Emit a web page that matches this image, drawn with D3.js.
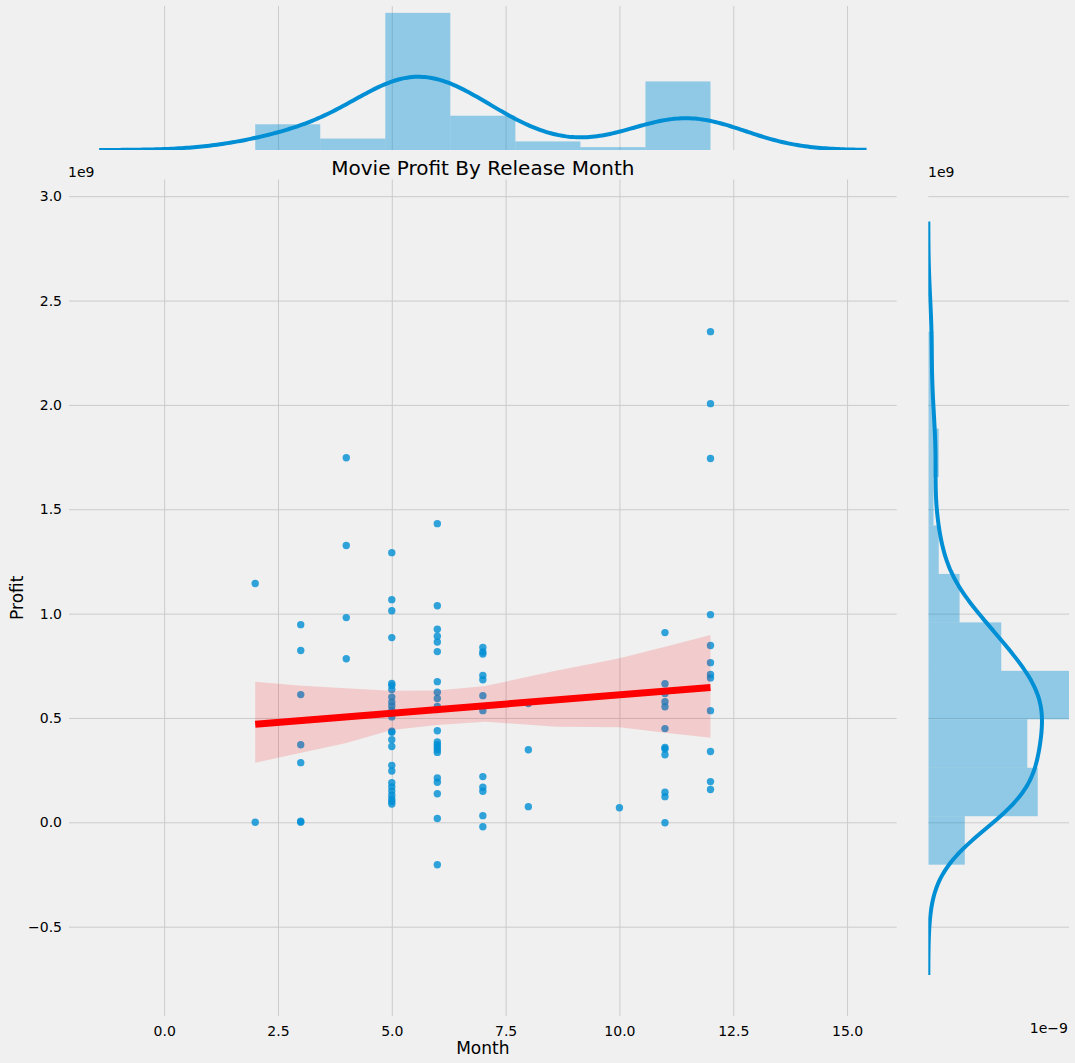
<!DOCTYPE html>
<html>
<head>
<meta charset="utf-8">
<script src="https://cdn.jsdelivr.net/npm/d3@7"></script>
<style>
  body { margin: 0; background: #f0f0f0; }
  text { font-family: "DejaVu Sans", sans-serif; fill: #000; }
</style>
</head>
<body>
<svg id="chart" width="1075" height="1063"></svg>
<script>
// profit values are in units of 1e9, grouped by release month
var releaseMonths = [2, 3, 4, 5, 6, 7, 8, 10, 11, 12];
var profitsFeb = [1.144, 0.0];
var profitsMar = [0.947, 0.823, 0.612, 0.372, 0.286, 0.0, 0.005];
var profitsApr = [1.747, 1.326, 0.981, 0.784];
var profitsMay = [1.292, 1.067, 1.014, 0.885, 0.665, 0.655, 0.636, 0.600, 0.576, 0.557, 0.536, 0.520, 0.505,
                  0.436, 0.431, 0.396, 0.363, 0.273, 0.246, 0.190, 0.170, 0.150, 0.130, 0.112, 0.100, 0.088];
var profitsJun = [1.431, 1.038, 0.925, 0.892, 0.864, 0.818, 0.674, 0.623, 0.593, 0.555, 0.540, 0.439, 0.385,
                  0.372, 0.361, 0.348, 0.335, 0.212, 0.192, 0.137, 0.018, -0.203];
var profitsJul = [0.838, 0.816, 0.806, 0.704, 0.683, 0.607, 0.535, 0.219, 0.168, 0.149, 0.032, -0.021];
var profitsAug = [0.569, 0.348, 0.075];
var profitsOct = [0.070];
var profitsNov = [0.909, 0.664, 0.617, 0.578, 0.554, 0.449, 0.359, 0.351, 0.324, 0.144, 0.123, -0.002];
var profitsDec = [2.351, 2.006, 1.743, 0.995, 0.847, 0.765, 0.708, 0.692, 0.535, 0.339, 0.195, 0.157];

// confidence band of the fit
var ciX    = [2, 2.96, 3.98, 5.0, 6.0, 7.05, 8.6, 10.0, 11.0, 12];
var ciLow  = [0.286, 0.331, 0.379, 0.442, 0.466, 0.482, 0.458, 0.455, 0.429, 0.405];
var ciHigh = [0.674, 0.655, 0.642, 0.631, 0.632, 0.653, 0.726, 0.786, 0.841, 0.897];

var xTicks = [0, 2.5, 5, 7.5, 10, 12.5, 15];
var yTicks = [-0.5, 0, 0.5, 1.0, 1.5, 2.0, 2.5, 3.0];
var monthBinCount = 7;
var profitBinCount = 11;

var groups = [profitsFeb, profitsMar, profitsApr, profitsMay, profitsJun, profitsJul, profitsAug, profitsOct, profitsNov, profitsDec];
var points = [];
groups.forEach(function(g, i) {
  g.forEach(function(p) { points.push({month: releaseMonths[i], profit: p}); });
});
var monthVals = points.map(function(d) { return d.month; });
var profitVals = points.map(function(d) { return d.profit; });

var blue = "#008fd5", grid = "#cbcbcb";
var svg = d3.select("#chart");

// main axes frame
var L = 69, R = 896.7, T = 179.5, B = 1016;
var x = d3.scaleLinear().domain([-2.09, 16.09]).range([L, R]);
var y = d3.scaleLinear().domain([-0.928, 3.08]).range([B, T]);

// marginal frames
var topY0 = 150, topY1 = 6;
var rightX0 = 928.3, rightX1 = 1069;

function gauss(u) { return Math.exp(-0.5 * u * u) / Math.sqrt(2 * Math.PI); }
function kde(vals, n) {
  var bw = d3.deviation(vals) * Math.pow(vals.length, -0.2);
  var lo = d3.min(vals) - 3 * bw, hi = d3.max(vals) + 3 * bw;
  return d3.range(n).map(function(i) {
    var t = lo + (hi - lo) * i / (n - 1);
    return [t, d3.mean(vals, function(v) { return gauss((t - v) / bw); }) / bw];
  });
}
function makeBins(vals, k) {
  var lo = d3.min(vals), hi = d3.max(vals), w = (hi - lo) / k;
  var th = d3.range(1, k).map(function(i) { return lo + i * w; });
  var bins = d3.bin().domain([lo, hi]).thresholds(th)(vals);
  bins.forEach(function(b) { b.density = b.length / (vals.length * w); });
  return bins;
}

// ---------- grids (main) ----------
var xAxis = d3.axisBottom(x).tickValues(xTicks).tickFormat(d3.format(".1f")).tickSize(-(B - T)).tickPadding(10);
var gx = svg.append("g").attr("transform", "translate(0," + B + ")").call(xAxis);
var yAxis = d3.axisLeft(y).tickValues(yTicks).tickFormat(d3.format(".1f")).tickSize(-(R - L)).tickPadding(7);
var gy = svg.append("g").attr("transform", "translate(" + L + ",0)").call(yAxis);
[gx, gy].forEach(function(g) {
  g.select(".domain").remove();
  g.selectAll(".tick line").attr("stroke", grid).attr("stroke-width", 1);
  g.selectAll(".tick text").attr("font-size", 14).attr("fill", "#000");
});

// grids (top marginal: vertical only)
var gtx = svg.append("g").attr("transform", "translate(0," + topY0 + ")")
  .call(d3.axisBottom(x).tickValues(xTicks).tickSize(-(topY0 - topY1)).tickFormat(""));
gtx.select(".domain").remove();
gtx.selectAll(".tick line").attr("stroke", grid);

// grids (right marginal: horizontal only)
var gry = svg.append("g").attr("transform", "translate(" + rightX0 + ",0)")
  .call(d3.axisLeft(y).tickValues(yTicks).tickSize(-(rightX1 - rightX0)).tickFormat(""));
gry.select(".domain").remove();
gry.selectAll(".tick line").attr("stroke", grid);

// ---------- scatter ----------
var clipMain = svg.append("clipPath").attr("id", "clipMain");
clipMain.append("rect").attr("x", L).attr("y", T).attr("width", R - L).attr("height", B - T);

svg.append("g").attr("clip-path", "url(#clipMain)")
  .selectAll("circle").data(points).join("circle")
  .attr("cx", function(d) { return x(d.month); })
  .attr("cy", function(d) { return y(d.profit); })
  .attr("r", 3.7)
  .attr("fill", blue)
  .attr("fill-opacity", 0.8);

// ---------- regression band + line ----------
var band = ciX.map(function(v, i) { return {x: v, lo: ciLow[i], hi: ciHigh[i]}; });
svg.append("path").datum(band)
  .attr("d", d3.area().x(function(d) { return x(d.x); }).y0(function(d) { return y(d.lo); }).y1(function(d) { return y(d.hi); }))
  .attr("fill", "red").attr("fill-opacity", 0.15);

var mx = d3.mean(monthVals), my = d3.mean(profitVals);
var sxy = d3.sum(points, function(d) { return (d.month - mx) * (d.profit - my); });
var sxx = d3.sum(points, function(d) { return (d.month - mx) * (d.month - mx); });
var slope = sxy / sxx, icpt = my - slope * mx;
var fitX = d3.extent(monthVals);
svg.append("path").datum(fitX)
  .attr("d", d3.line().x(function(d) { return x(d); }).y(function(d) { return y(icpt + slope * d); }))
  .attr("stroke", "red").attr("stroke-width", 7).attr("fill", "none");

// ---------- top marginal ----------
var mBins = makeBins(monthVals, monthBinCount);
var mKde = kde(monthVals, 300);
var topMax = Math.max(d3.max(mBins, function(b) { return b.density; }), d3.max(mKde, function(d) { return d[1]; }));
var yTop = d3.scaleLinear().domain([0, topMax * 1.05]).range([topY0, topY1]);

var clipTop = svg.append("clipPath").attr("id", "clipTop");
clipTop.append("rect").attr("x", L).attr("y", topY1).attr("width", R - L).attr("height", topY0 - topY1);
var gTop = svg.append("g").attr("clip-path", "url(#clipTop)");
gTop.selectAll("rect").data(mBins).join("rect")
  .attr("x", function(b) { return x(b.x0); })
  .attr("width", function(b) { return x(b.x1) - x(b.x0); })
  .attr("y", function(b) { return yTop(b.density); })
  .attr("height", function(b) { return yTop(0) - yTop(b.density); })
  .attr("fill", blue).attr("fill-opacity", 0.4);
gTop.append("path").datum(mKde)
  .attr("d", d3.line().x(function(d) { return x(d[0]); }).y(function(d) { return yTop(d[1]); }))
  .attr("fill", "none").attr("stroke", blue).attr("stroke-width", 4);

// ---------- right marginal ----------
var pBins = makeBins(profitVals, profitBinCount);
var pKde = kde(profitVals, 300);
var rightMax = Math.max(d3.max(pBins, function(b) { return b.density; }), d3.max(pKde, function(d) { return d[1]; }));
var xRight = d3.scaleLinear().domain([0, rightMax]).range([rightX0, rightX1]);

var clipRight = svg.append("clipPath").attr("id", "clipRight");
clipRight.append("rect").attr("x", rightX0).attr("y", T).attr("width", rightX1 - rightX0).attr("height", B - T);
var gRight = svg.append("g").attr("clip-path", "url(#clipRight)");
gRight.selectAll("rect").data(pBins).join("rect")
  .attr("x", rightX0)
  .attr("y", function(b) { return y(b.x1); })
  .attr("height", function(b) { return y(b.x0) - y(b.x1); })
  .attr("width", function(b) { return xRight(b.density) - rightX0; })
  .attr("fill", blue).attr("fill-opacity", 0.4);
gRight.append("path").datum(pKde)
  .attr("d", d3.line().x(function(d) { return xRight(d[1]); }).y(function(d) { return y(d[0]); }))
  .attr("fill", "none").attr("stroke", blue).attr("stroke-width", 4);

// ---------- text ----------
svg.append("text").attr("x", (L + R) / 2).attr("y", 175).attr("text-anchor", "middle")
  .attr("font-size", 20).text("Movie Profit By Release Month");
svg.append("text").attr("x", (L + R) / 2).attr("y", 1054).attr("text-anchor", "middle")
  .attr("font-size", 17).text("Month");
svg.append("text").attr("transform", "translate(23," + ((T + B) / 2) + ") rotate(-90)")
  .attr("text-anchor", "middle").attr("font-size", 17).text("Profit");
svg.append("text").attr("x", 68).attr("y", 177).attr("font-size", 14).text("1e9");
svg.append("text").attr("x", 928).attr("y", 177).attr("font-size", 14).text("1e9");
svg.append("text").attr("x", 1068).attr("y", 1033).attr("text-anchor", "end").attr("font-size", 14).text("1e\u22129");
</script>
</body>
</html>
